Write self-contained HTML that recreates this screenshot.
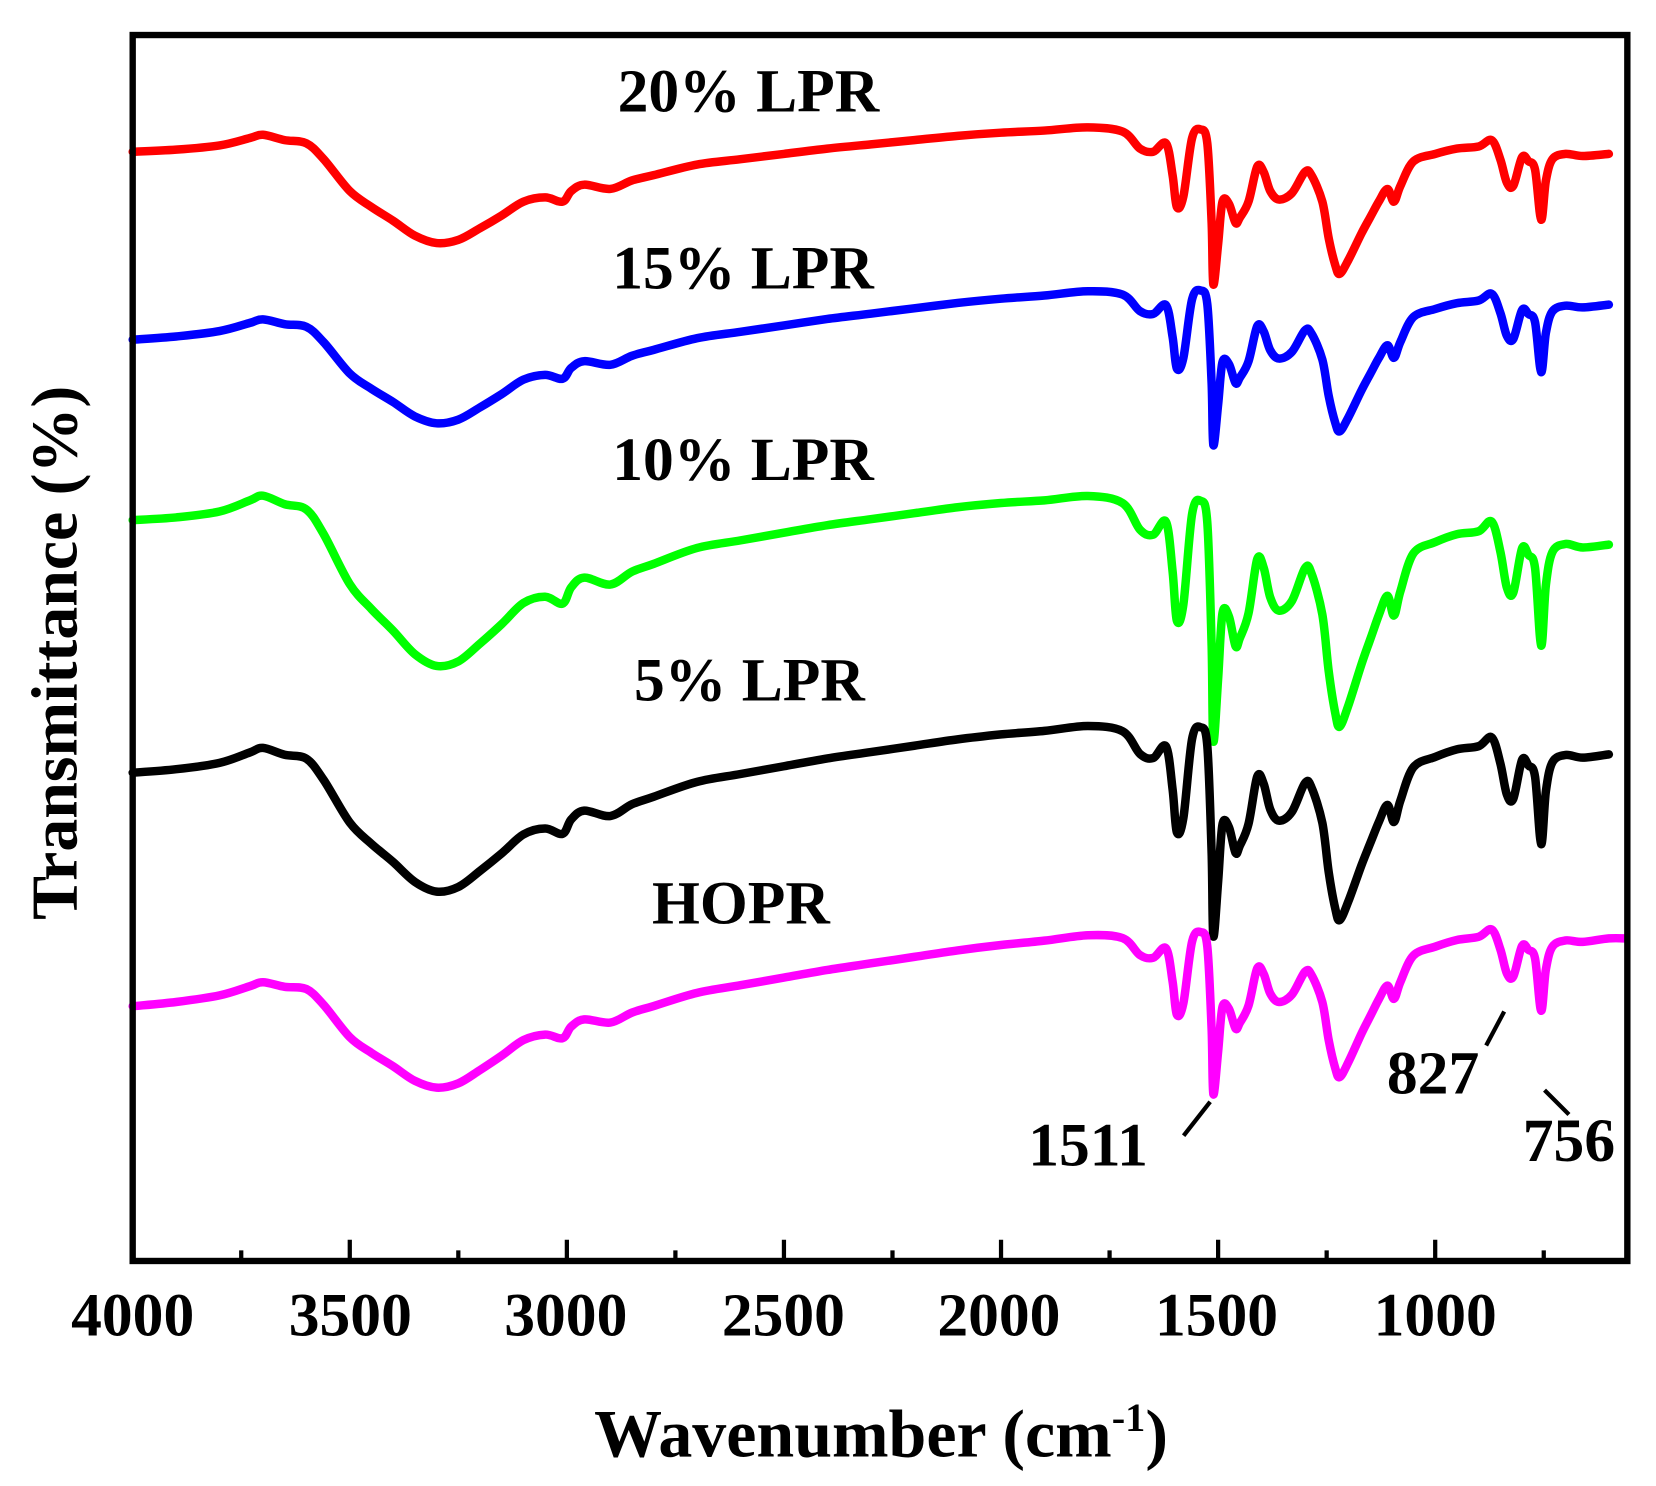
<!DOCTYPE html>
<html><head><meta charset="utf-8">
<style>
html,body{margin:0;padding:0;background:#fff;}
svg{display:block;}
text{font-family:"Liberation Serif",serif;font-weight:bold;fill:#000;}
</style></head>
<body>
<svg id="s" width="1656" height="1486" viewBox="0 0 1560 1400" preserveAspectRatio="none" xmlns="http://www.w3.org/2000/svg">
<rect x="0" y="0" width="1560" height="1400" fill="#fff"/>
<g id="curves" fill="none" stroke-width="8" stroke-linejoin="round" stroke-linecap="round"></g>
<rect x="125" y="33" width="1408" height="1155" fill="none" stroke="#000" stroke-width="6"/>
<g id="ticks" stroke="#000" stroke-width="4"></g>
<g font-size="58" text-anchor="middle">
<text x="125" y="1258">4000</text>
<text x="330" y="1258">3500</text>
<text x="533" y="1258">3000</text>
<text x="738" y="1258">2500</text>
<text x="941" y="1258">2000</text>
<text x="1146" y="1258">1500</text>
<text x="1352" y="1258">1000</text>
<text x="705" y="105">20% LPR</text>
<text x="700" y="272">15% LPR</text>
<text x="700" y="452">10% LPR</text>
<text x="706" y="660">5% LPR</text>
<text x="698" y="870">HOPR</text>
<text x="1025" y="1098">1511</text>
<text x="1350" y="1030">827</text>
<text x="1478" y="1094">756</text>
</g>
<g stroke="#000" stroke-width="4">
<line x1="1140" y1="1038" x2="1115" y2="1070"/>
<line x1="1417" y1="953" x2="1400" y2="985"/>
<line x1="1455" y1="1027" x2="1478" y2="1050"/>
</g>
<text x="830" y="1372" font-size="64" text-anchor="middle">Wavenumber (cm<tspan dy="-24" font-size="38">-1</tspan><tspan dy="24">)</tspan></text>
<text transform="translate(72,615) rotate(-90)" font-size="62" text-anchor="middle">Transmittance (%)</text>
</svg>
<script>
var R=[[4000,143],[3900,141],[3800,137],[3730,130],[3700,127],[3650,132],[3600,135],[3560,150],[3500,180],[3450,195],[3400,208],[3350,222],[3300,229],[3250,226],[3200,215],[3150,203],[3100,190],[3050,186],[3010,190],[2990,180],[2960,174],[2900,178],[2850,170],[2800,165],[2700,155],[2600,150],[2500,145],[2400,140],[2300,136],[2200,132],[2100,128],[2000,125],[1900,123],[1800,120],[1720,124],[1680,140],[1650,143],[1620,135],[1605,165],[1595,195],[1580,185],[1560,130],[1540,122],[1525,135],[1515,210],[1511,268],[1500,230],[1490,190],[1475,192],[1460,210],[1450,205],[1430,190],[1410,157],[1395,162],[1380,180],[1360,188],[1330,182],[1300,162],[1285,165],[1260,190],[1245,225],[1230,250],[1220,258],[1200,245],[1170,220],[1150,205],[1130,190],[1110,178],[1095,190],[1080,175],[1050,152],[1000,145],[950,140],[900,138],[870,132],[850,150],[835,172],[820,175],[800,148],[785,152],[770,160],[756,207],[745,170],[730,150],[700,145],[660,147],[600,145]];
function X(w){return 125+(4000-w)*0.409;}
var series=[["#f00",143,1,0,600],["#00f",320,1,-35,600],["#0f0",490,1.55,20,600],["#000",728,1.35,-20,600],["#f0f",948,1.05,-66,560]];
var g=document.getElementById('curves'),ns="http://www.w3.org/2000/svg";
series.forEach(function(s){
 var pts=R.map(function(p){var t=(4000-p[0])/3400;return [X(p[0]),s[1]+s[2]*(p[1]-143)+s[3]*t];});
 if(s[4]<600){var l=pts[pts.length-1];pts.push([X(s[4]),l[1]]);}
 var d="M"+pts[0][0].toFixed(1)+","+pts[0][1].toFixed(1);
 for(var i=0;i<pts.length-1;i++){
  var p0=pts[i>0?i-1:i],p1=pts[i],p2=pts[i+1],p3=pts[i+2<pts.length?i+2:i+1];
  var c1x=p1[0]+(p2[0]-p0[0])/6,c1y=p1[1]+(p2[1]-p0[1])/6,c2x=p2[0]-(p3[0]-p1[0])/6,c2y=p2[1]-(p3[1]-p1[1])/6;
  d+="C"+c1x.toFixed(1)+","+c1y.toFixed(1)+" "+c2x.toFixed(1)+","+c2y.toFixed(1)+" "+p2[0].toFixed(1)+","+p2[1].toFixed(1);
 }
 var p=document.createElementNS(ns,"path");p.setAttribute("d",d);p.setAttribute("stroke",s[0]);g.appendChild(p);
});
var tg=document.getElementById('ticks');
for(var w=3750;w>=750;w-=250){var x=X(w),len=(w%500==0)?20:10;var ln=document.createElementNS(ns,"line");
ln.setAttribute("x1",x);ln.setAttribute("x2",x);ln.setAttribute("y1",1188);ln.setAttribute("y2",1188-len);tg.appendChild(ln);}
</script>
</body></html>
